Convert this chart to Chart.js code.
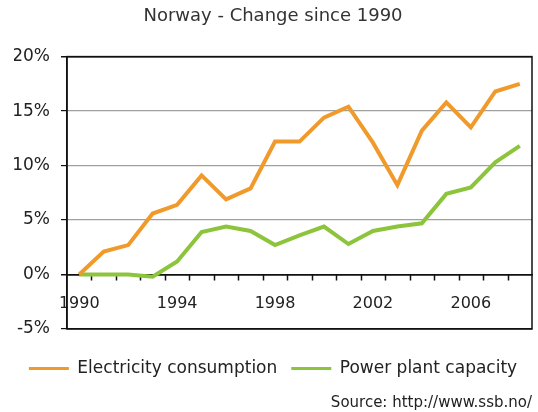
<!DOCTYPE html>
<html>
<head>
<meta charset="utf-8">
<script src="https://cdn.jsdelivr.net/npm/chart.js@4/dist/chart.umd.min.js"></script>
<style>
  html, body { margin: 0; padding: 0; background: #fff; }
  #wrap { width: 538px; height: 412px; position: relative; }
</style>
</head>
<body>
<div id="wrap"><canvas id="chart"></canvas></div>
<script>
// dados (variação % desde 1990)
const anos = ['1990', '1991', '1992', '1993', '1994', '1995', '1996', '1997', '1998', '1999',
              '2000', '2001', '2002', '2003', '2004', '2005', '2006', '2007', '2008'];
const consumo = [0, 2.1, 2.7, 5.6, 6.4, 9.1, 6.9, 7.9, 12.2, 12.2,
                 14.4, 15.4, 12.1, 8.2, 13.2, 15.8, 13.5, 16.8, 17.5];
const capacidade = [0, 0, 0, -0.2, 1.2, 3.9, 4.4, 4.0, 2.7, 3.6,
                    4.4, 2.8, 4.0, 4.4, 4.7, 7.4, 8.0, 10.3, 11.8];
const ticksY = [-5, 0, 5, 10, 15, 20];

const laranja = '#f09a2c';
const verde = '#8cc43c';

// moldura preta + marcas do eixo x entre as categorias
const moldura = {
    id: 'moldura',
    beforeDatasetsDraw(chart) {
        const a = chart.chartArea;
        const ctx = chart.ctx;
        const sx = chart.scales.x;
        const y0 = chart.scales.y.getPixelForValue(0);
        ctx.save();
        ctx.strokeStyle = '#111';
        ctx.lineWidth = 1.5;
        ctx.strokeRect(a.left, a.top, a.right - a.left, a.bottom - a.top);
        ctx.beginPath();
        for (let i = 0; i < anos.length - 1; i++) {
            const x = Math.round((sx.getPixelForValue(i) + sx.getPixelForValue(i + 1)) / 2) + 0.5;
            ctx.moveTo(x, y0);
            ctx.lineTo(x, y0 + 6);
        }
        ctx.stroke();
        ctx.restore();
    }
};

new Chart(document.getElementById('chart').getContext('2d'), {
    type: 'line',
    data: {
        labels: anos,
        datasets: [{
            label: 'Electricity consumption',
            data: consumo,
            borderColor: laranja,
            backgroundColor: laranja,
            borderWidth: 4,
            pointRadius: 0,
            tension: 0,
            fill: false
        }, {
            label: 'Power plant capacity',
            data: capacidade,
            borderColor: verde,
            backgroundColor: verde,
            borderWidth: 4,
            pointRadius: 0,
            tension: 0,
            fill: false
        }]
    },
    options: {
        responsive: true,
        maintainAspectRatio: false,
        animation: false,
        layout: { padding: { left: 14, right: 6, top: 0, bottom: 0 } },
        plugins: {
            title: {
                display: true,
                text: 'Norway - Change since 1990',
                color: '#333',
                font: { family: 'DejaVu Sans', size: 18, weight: 'normal' },
                padding: { top: 6, bottom: 29 }
            },
            subtitle: {
                display: true,
                text: 'Source: http://www.ssb.no/',
                position: 'bottom',
                align: 'end',
                color: '#222',
                font: { family: 'DejaVu Sans', size: 15, weight: 'normal' },
                padding: { top: 7, bottom: 0 }
            },
            legend: {
                position: 'bottom',
                title: { display: true, text: '', font: { size: 10 }, padding: { top: 3, bottom: 2 } },
                labels: {
                    boxWidth: 40,
                    boxHeight: 3,
                    padding: 14,
                    color: '#222',
                    font: { family: 'DejaVu Sans', size: 17 },
                    generateLabels(chart) {
                        return Chart.defaults.plugins.legend.labels.generateLabels(chart)
                            .map(l => Object.assign(l, { lineWidth: 0 }));
                    }
                }
            },
            tooltip: { enabled: false }
        },
        scales: {
            x: {
                type: 'category',
                position: { y: 0 },
                offset: true,
                grid: { display: false },
                border: { color: '#111', width: 1.5 },
                ticks: {
                    autoSkip: false,
                    maxRotation: 0,
                    padding: 12,
                    color: '#222',
                    font: { family: 'DejaVu Sans', size: 16 },
                    callback(v, i) { return i % 4 === 0 ? anos[i] : ''; }
                }
            },
            y: {
                min: ticksY[0],
                max: ticksY[ticksY.length - 1],
                afterBuildTicks(scale) { scale.ticks = ticksY.map(v => ({ value: v })); },
                afterFit(scale) { scale.width = 53; },
                grid: {
                    color: c => (c.tick && (c.tick.value === 0 || c.tick.value === -5 || c.tick.value === 20)) ? '#111' : '#a0a0a0',
                    lineWidth: c => (c.tick && c.tick.value % 20 === 0) ? 1.5 : 1.2,
                    tickLength: 6,
                    tickColor: '#111'
                },
                border: { color: '#111', width: 1.5 },
                ticks: {
                    padding: 11,
                    color: '#222',
                    font: { family: 'DejaVu Sans', size: 17 },
                    callback: v => v + '%'
                }
            }
        }
    },
    plugins: [moldura]
});
</script>
</body>
</html>
